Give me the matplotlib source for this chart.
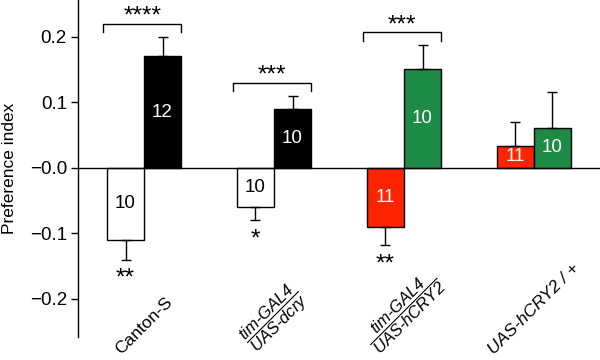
import matplotlib
matplotlib.use('Agg')
import matplotlib.pyplot as plt
import matplotlib.transforms as mtransforms
import numpy as np

plt.rcParams['font.family'] = 'Liberation Sans'
plt.rcParams['mathtext.fontset'] = 'custom'
plt.rcParams['mathtext.rm'] = 'Liberation Sans:italic'
plt.rcParams['mathtext.it'] = 'Liberation Sans:italic'

# data
group_labels = ["Canton-S",
                r"$\dfrac{\text{tim-GAL4}}{\text{UAS-dcry}}$",
                r"$\dfrac{\text{tim-GAL4}}{\text{UAS-hCRY2}}$",
                "UAS-hCRY2 / +"]
label_italic = [False, True, True, True]
left_vals = [-0.11, -0.06, -0.09, 0.034]
left_err = [0.03, 0.02, 0.028, 0.036]
right_vals = [0.17, 0.09, 0.15, 0.061]
right_err = [0.03, 0.02, 0.037, 0.054]
left_n = [10, 10, 11, 11]
right_n = [12, 10, 10, 10]
pair_stars = ["****", "***", "***", None]
below_stars = ["**", "*", "**", None]
yticks = [-0.2, -0.1, 0.0, 0.1, 0.2]
ytick_labels = ["\u22120.2", "\u22120.1", "\u22120.0", "0.1", "0.2"]

RED = '#ff2400'
GREEN = '#1d8a46'
left_colors = ['white', 'white', RED, RED]
right_colors = ['black', 'black', GREEN, GREEN]

fig = plt.figure(figsize=(6, 3.6), dpi=100)
ax = fig.add_axes([0.13, 0.064, 0.87, 0.936])

x = np.arange(len(group_labels))
w = 0.285


def one_sided(vals, errs):
    lo = [e if v < 0 else 0 for v, e in zip(vals, errs)]
    hi = [e if v >= 0 else 0 for v, e in zip(vals, errs)]
    return [lo, hi]


ekw = dict(ecolor='black', elinewidth=1, capsize=3.5, capthick=1)
ax.bar(x - w / 2, left_vals, w, color=left_colors, edgecolor='black', linewidth=1,
       yerr=one_sided(left_vals, left_err), error_kw=ekw, zorder=2)
ax.bar(x + w / 2, right_vals, w, color=right_colors, edgecolor='black', linewidth=1,
       yerr=one_sided(right_vals, right_err), error_kw=ekw, zorder=2)
ax.axhline(0, color='black', lw=1, zorder=3)

# n inside bars
for i in range(len(x)):
    for xpos, v, n, c in [(x[i] - w / 2, left_vals[i], left_n[i], left_colors[i]),
                          (x[i] + w / 2, right_vals[i], right_n[i], right_colors[i])]:
        tc = 'black' if c == 'white' else 'white'
        ax.text(xpos, v / 2, str(n), ha='center', va='center', fontsize=13.5, color=tc, zorder=4)

# significance brackets
for i, s in enumerate(pair_stars):
    if s is None:
        continue
    top = max(right_vals[i] + right_err[i], left_vals[i] + (left_err[i] if left_vals[i] > 0 else 0))
    yb = top + 0.02
    x0 = x[i] - w - 0.03
    x1 = x[i] + w
    ax.plot([x0, x0, x1, x1], [yb - 0.013, yb, yb, yb - 0.013], color='black', lw=1, clip_on=False)
    ax.text(x[i] - w * 0.05, yb + 0.001, s, ha='center', va='baseline', fontsize=17.5)

for i, s in enumerate(below_stars):
    if s is None:
        continue
    ybot = left_vals[i] - left_err[i]
    ax.text(x[i] - w / 2, ybot - 0.038, s, ha='center', va='baseline', fontsize=17.5)

ax.set_xlim(-0.508, 3.508)
ax.set_ylim(-0.258, 0.256)
ax.set_yticks(yticks)
ax.set_yticklabels(ytick_labels, fontsize=13.5)
ax.tick_params(axis='y', direction='out', length=5, width=1, pad=3)
ax.set_xticks([])
for sp in ['top', 'right', 'bottom']:
    ax.spines[sp].set_visible(False)
ax.spines['left'].set_linewidth(1)
ax.set_ylabel("Preference index", fontsize=12.5, labelpad=9)

# rotated group labels under the axis
trans = mtransforms.blended_transform_factory(ax.transData, fig.transFigure)
for i, lab in enumerate(group_labels):
    ax.text(x[i], 0.008, lab, transform=trans, rotation=45, ha='center', va='bottom',
            fontsize=12.5 if i in (0, 3) else 12,
            style='italic' if label_italic[i] else 'normal')

fig.savefig('out.png', dpi=100)
